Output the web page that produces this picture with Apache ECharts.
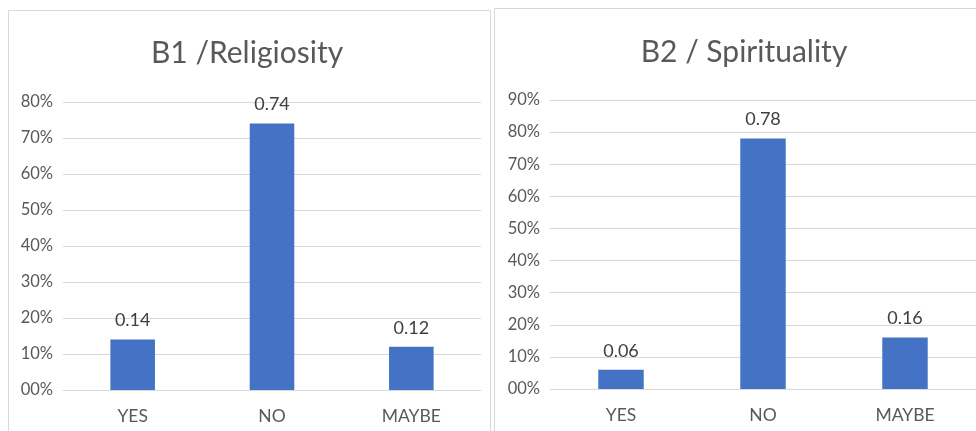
<!DOCTYPE html>
<html><head><meta charset="utf-8">
<script src="https://cdn.jsdelivr.net/npm/echarts@6/dist/echarts.min.js"></script>
<style>html,body{margin:0;padding:0;background:#fff}#c{width:976px;height:431px}</style>
</head><body><div id="c"></div>
<script>
const categories = ['YES', 'NO', 'MAYBE'];
const religiosity = [0.14, 0.74, 0.12];
const spirituality = [0.06, 0.78, 0.16];
const titles = ['B1 /Religiosity', 'B2 / Spirituality'];
const yMax = [0.8, 0.9];

const FONT = 'Lato, "Open Sans", sans-serif';
const chart = echarts.init(document.getElementById('c'), null, {renderer: 'canvas'});
const pct = v => (Math.round(v * 100) === 0 ? '00%' : Math.round(v * 100) + '%');
const yAxisBase = {
  type: 'value', min: 0, interval: 0.1,
  axisLine: {show: false}, axisTick: {show: false},
  splitLine: {lineStyle: {color: '#d9d9d9', width: 1}},
  axisLabel: {formatter: pct, color: '#595959', fontSize: 16.5, fontFamily: FONT, margin: 10}
};
const xAxisBase = {
  type: 'category', data: categories,
  axisLine: {lineStyle: {color: '#d9d9d9'}}, axisTick: {show: false},
  axisLabel: {color: '#595959', fontSize: 17.5, fontFamily: FONT, margin: 17}
};
const seriesBase = {
  type: 'bar', barWidth: '32%', itemStyle: {color: '#4472c4'},
  label: {show: true, position: 'top', distance: 10, color: '#404040', fontSize: 18, fontFamily: FONT,
          formatter: p => String(p.value)}
};
chart.setOption({
  animation: false,
  graphic: [
    {type: 'rect', shape: {x: 8.5, y: 10.5, width: 482, height: 440}, style: {fill: 'none', stroke: '#d9d9d9', lineWidth: 1}},
    {type: 'rect', shape: {x: 494.5, y: 8.5, width: 500, height: 440}, style: {fill: 'none', stroke: '#d9d9d9', lineWidth: 1}}
  ],
  title: [
    {text: titles[0], left: 242, top: 33, textAlign: 'center',
     textStyle: {color: '#595959', fontSize: 30, fontWeight: 'normal', fontFamily: FONT}},
    {text: titles[1], left: 739, top: 32, textAlign: 'center',
     textStyle: {color: '#595959', fontSize: 30, fontWeight: 'normal', fontFamily: FONT}}
  ],
  grid: [
    {left: 63, right: 495, top: 102, bottom: 41},
    {left: 550, right: 0, top: 100, bottom: 42}
  ],
  xAxis: [
    Object.assign({gridIndex: 0}, xAxisBase),
    Object.assign({gridIndex: 1}, xAxisBase)
  ],
  yAxis: [
    Object.assign({gridIndex: 0, max: yMax[0]}, yAxisBase),
    Object.assign({gridIndex: 1, max: yMax[1]}, yAxisBase)
  ],
  series: [
    Object.assign({xAxisIndex: 0, yAxisIndex: 0, data: religiosity}, seriesBase),
    Object.assign({xAxisIndex: 1, yAxisIndex: 1, data: spirituality}, seriesBase)
  ]
});
</script></body></html>
